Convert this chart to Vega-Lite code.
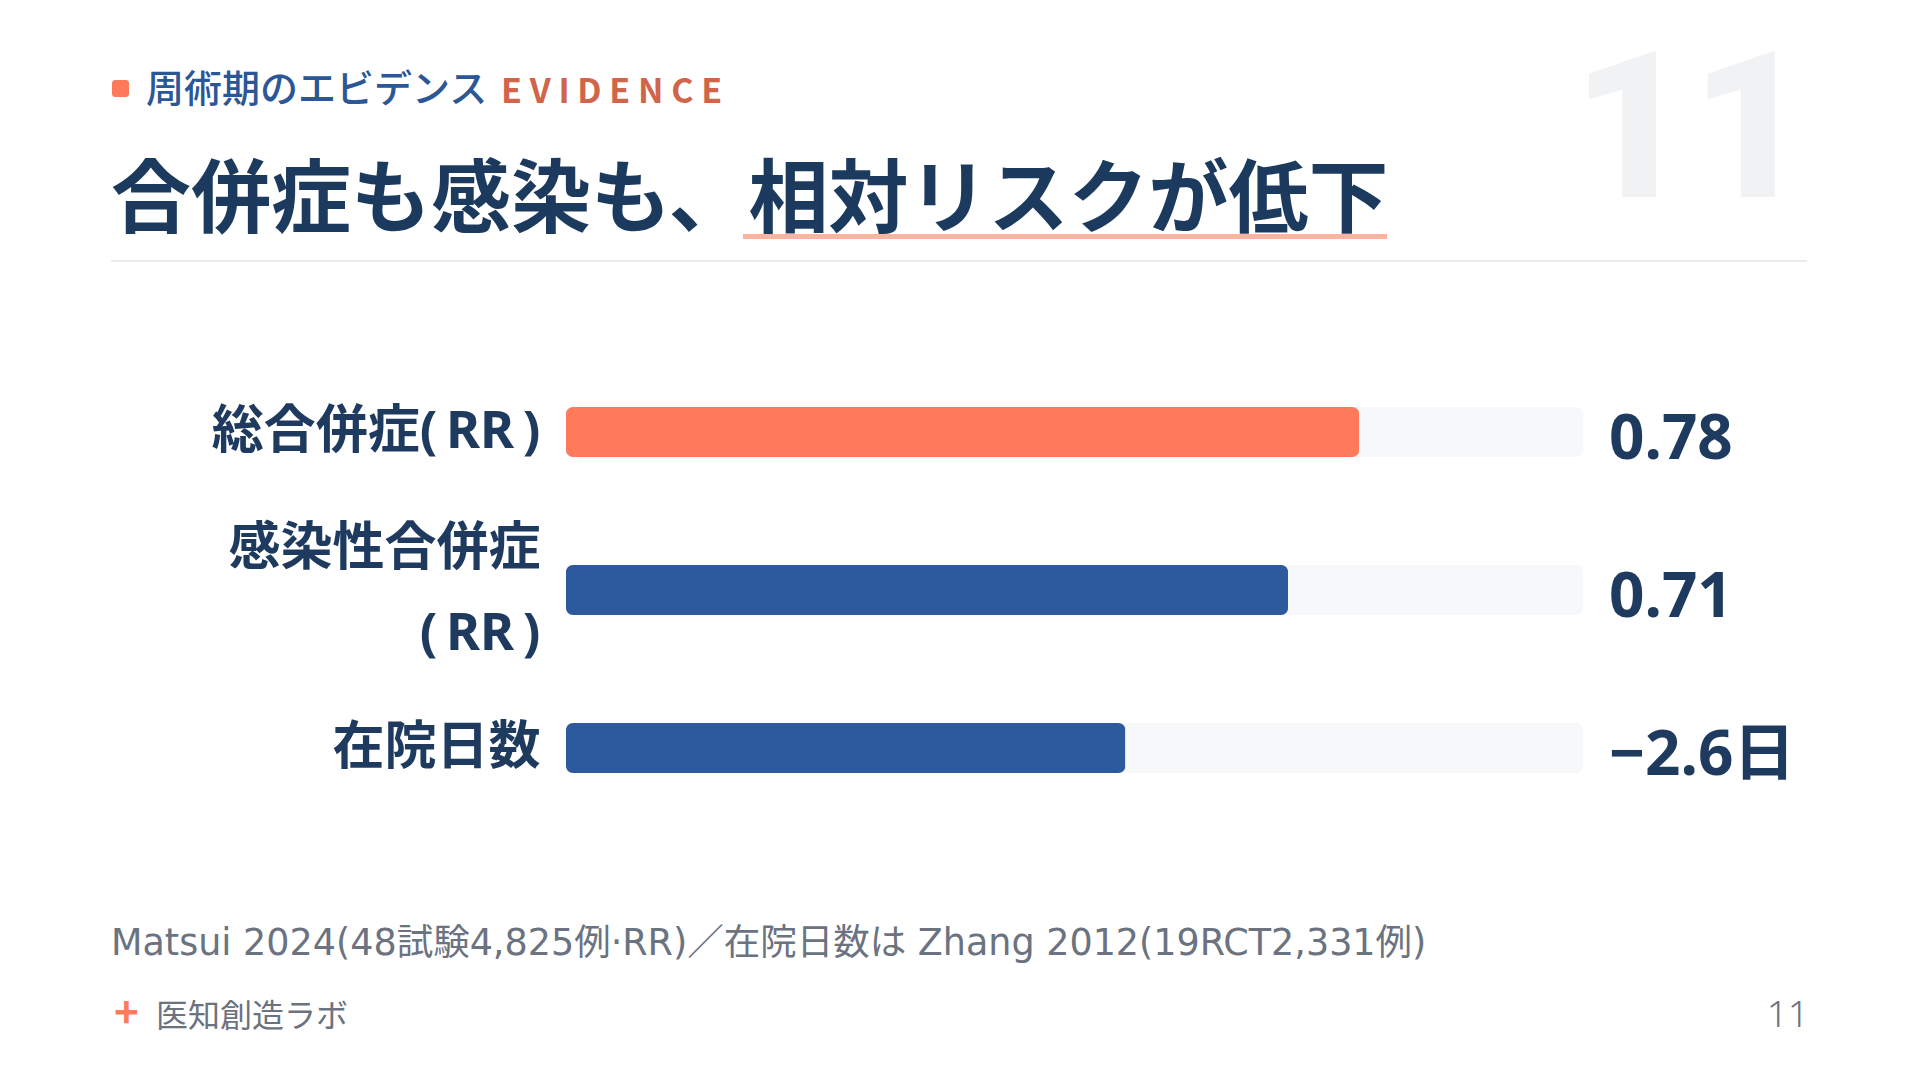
{
  "$schema": "https://vega.github.io/schema/vega-lite/v6.json",
  "width": 1017,
  "height": 474,
  "autosize": {"type": "none"},
  "padding": {"left": 566, "top": 353, "right": 337, "bottom": 253},
  "background": "#ffffff",
  "config": {"view": {"stroke": null}, "font": "Noto Sans CJK JP"},
  "data": {
    "values": [
      {"label": "総合併症(RR)", "bar": 0.78, "display": "0.78"},
      {"label": "感染性合併症(RR)", "bar": 0.71, "display": "0.71"},
      {"label": "在院日数", "bar": 0.55, "display": "−2.6日"}
    ]
  },
  "encoding": {
    "y": {
      "field": "label",
      "type": "nominal",
      "sort": null,
      "scale": {"paddingInner": 0, "paddingOuter": 0},
      "axis": {
        "title": null,
        "domain": false,
        "ticks": false,
        "labelPadding": 26,
        "labelFont": "Noto Sans, Noto Sans CJK JP",
        "labelFontSize": 52,
        "labelFontWeight": "bold",
        "labelColor": "#1e3a5f",
        "labelLineHeight": 85,
        "labelLimit": 0,
        "labelOffset": {"condition": {"test": "length(datum.value) > 8", "value": -41}, "value": 0},
        "labelExpr": "length(datum.value) > 8 ? [slice(datum.value, 0, 6), replace(replace(slice(datum.value, 6), '(', '(\u2009'), ')', '\u2009)')] : replace(replace(datum.value, '(', '(\u2009'), ')', '\u2009)')"
      }
    }
  },
  "layer": [
    {
      "mark": {"type": "bar", "size": 50, "cornerRadius": 7, "color": "#f6f8fa"},
      "encoding": {
        "x": {"datum": 1, "type": "quantitative", "axis": null, "scale": {"domain": [0, 1], "nice": false}}
      }
    },
    {
      "mark": {"type": "bar", "size": 50, "cornerRadius": 7},
      "encoding": {
        "x": {"field": "bar", "type": "quantitative"},
        "color": {
          "field": "label",
          "type": "nominal",
          "scale": {"domain": ["総合併症(RR)", "感染性合併症(RR)", "在院日数"], "range": ["#ff7a5a", "#2d5a9f", "#2d5a9f"]},
          "legend": null
        }
      }
    },
    {
      "mark": {"type": "text", "align": "left", "baseline": "alphabetic", "dx": 26, "dy": 27, "fontSize": 62, "fontWeight": "bold", "color": "#1e3a5f", "font": "Noto Sans, Noto Sans CJK JP"},
      "encoding": {
        "x": {"datum": 1, "type": "quantitative"},
        "text": {"field": "display"}
      }
    },
    {
      "data": {"values": [{}]},
      "mark": {"type": "rect", "color": "#ff7a5a", "cornerRadius": 3},
      "encoding": {"x": {"value": -454}, "x2": {"value": -437}, "y": {"value": -273}, "y2": {"value": -256}}
    },
    {
      "data": {"values": [{}]},
      "mark": {"type": "text", "text": "周術期のエビデンス", "align": "left", "baseline": "alphabetic", "fontSize": 38, "fontWeight": 500, "color": "#2b5797", "font": "Noto Sans CJK JP"},
      "encoding": {"x": {"value": -420}, "y": {"value": -251}}
    },
    {
      "data": {"values": [{}]},
      "mark": {"type": "text", "text": "E V I D E N C E", "align": "left", "baseline": "alphabetic", "fontSize": 34, "fontWeight": "bold", "color": "#d0654a", "font": "Noto Sans CJK JP"},
      "encoding": {"x": {"value": -65}, "y": {"value": -250}}
    },
    {
      "data": {"values": [{}]},
      "mark": {"type": "text", "text": "11", "align": "center", "baseline": "alphabetic", "fontSize": 205, "fontWeight": 900, "color": "#f0f2f4", "font": "Roboto"},
      "encoding": {"x": {"value": 1125}, "y": {"value": -156}}
    },
    {
      "data": {"values": [{}]},
      "mark": {"type": "rect", "color": "#fbb4a0"},
      "encoding": {"x": {"value": 177}, "x2": {"value": 821}, "y": {"value": -119}, "y2": {"value": -114}}
    },
    {
      "data": {"values": [{}]},
      "mark": {"type": "text", "text": "合併症も感染も、相対リスクが低下", "align": "left", "baseline": "alphabetic", "fontSize": 80, "fontWeight": "bold", "color": "#1b3a5e", "font": "Noto Sans CJK JP"},
      "encoding": {"x": {"value": -455}, "y": {"value": -127}}
    },
    {
      "data": {"values": [{}]},
      "mark": {"type": "rule", "color": "#e3e6ea", "strokeWidth": 1.5},
      "encoding": {"x": {"value": -455}, "x2": {"value": 1241}, "y": {"value": -92}}
    },
    {
      "data": {"values": [{}]},
      "mark": {"type": "text", "text": "Matsui 2024(48試験4,825例·RR)／在院日数は Zhang 2012(19RCT2,331例)", "align": "left", "baseline": "alphabetic", "fontSize": 36.5, "color": "#6b7280", "font": "DejaVu Sans, Noto Sans CJK JP"},
      "encoding": {"x": {"value": -455}, "y": {"value": 602}}
    },
    {
      "data": {"values": [{}]},
      "mark": {"type": "text", "text": "+", "align": "left", "baseline": "alphabetic", "fontSize": 42, "fontWeight": "bold", "color": "#ff7a5a", "font": "Noto Sans CJK JP"},
      "encoding": {"x": {"value": -452}, "y": {"value": 675}}
    },
    {
      "data": {"values": [{}]},
      "mark": {"type": "text", "text": "医知創造ラボ", "align": "left", "baseline": "alphabetic", "fontSize": 32, "color": "#6b7280", "font": "Noto Sans CJK JP"},
      "encoding": {"x": {"value": -410}, "y": {"value": 674}}
    },
    {
      "data": {"values": [{}]},
      "mark": {"type": "text", "text": "11", "align": "right", "baseline": "alphabetic", "fontSize": 37, "fontWeight": 300, "color": "#6b7280", "font": "Noto Sans"},
      "encoding": {"x": {"value": 1243}, "y": {"value": 674}}
    }
  ]
}
